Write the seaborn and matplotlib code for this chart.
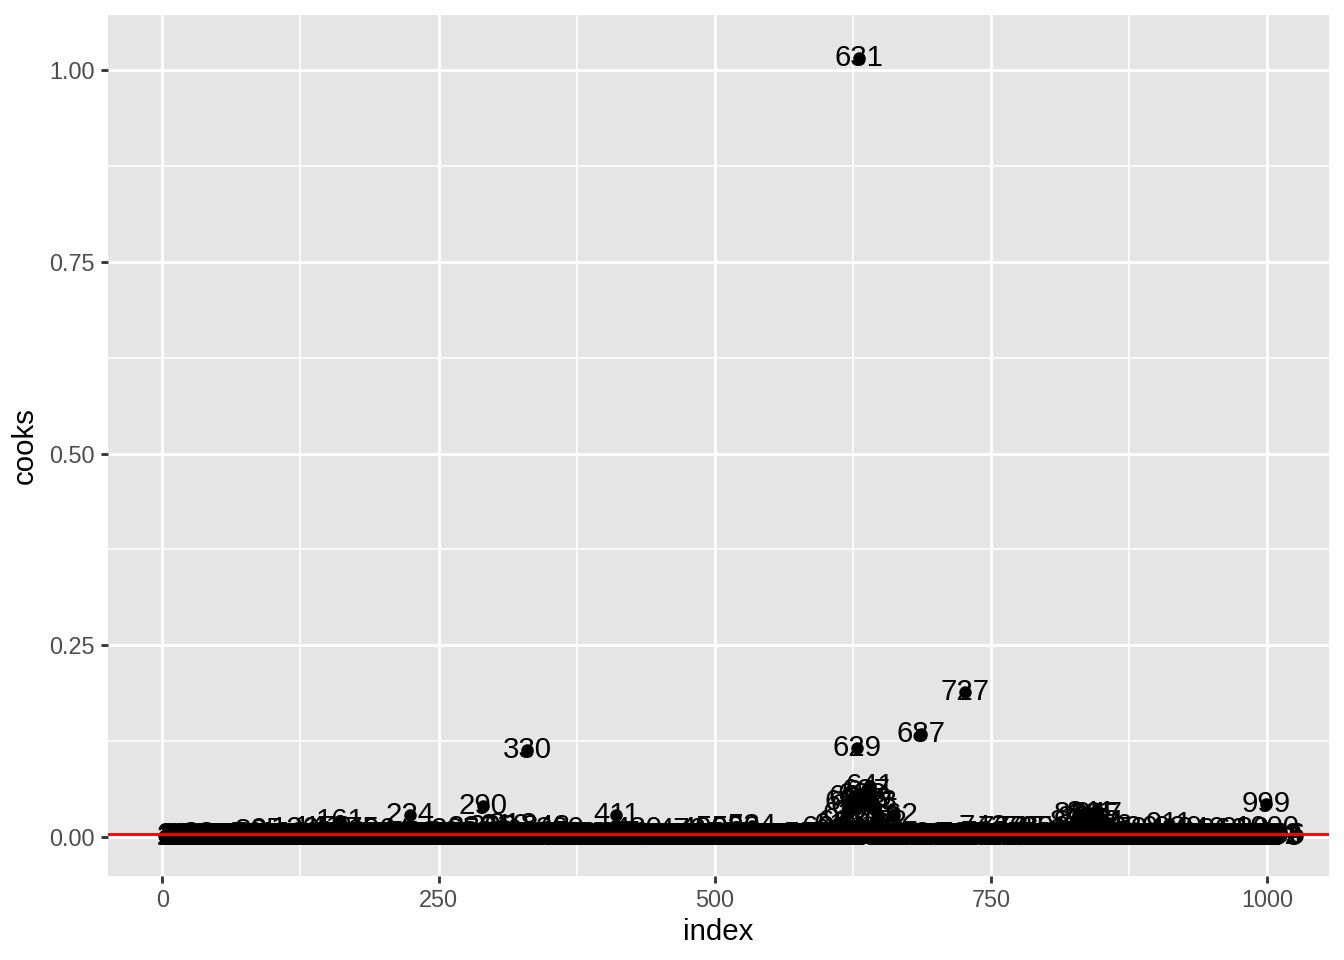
import numpy as np
import pandas as pd
import matplotlib
matplotlib.use("Agg")
import matplotlib.pyplot as plt
import seaborn as sns

# ---------------------- DATA ----------------------
# baseline Cook's distance for every observation, in thousandths (one digit per row)
baseline_digits = """
1021001201 0201100310 2001120102 1040120110 0210120301
2011030120 1002101301 2010240110 2103011020 1302101203
2130120241 0312021302 1203140213 0221301204 1302312041
2031420312 0251203103 2140230121 3021402130 2410320213
1302403120 3140213022 1403120523 0214031203 1240312031
2031402130 5021302413 0213042031 2403120214 3052130213
0312403120 2140312053 1204031240 2130241302 4021305210
3120413021 2403120312 0413021302 1403120312 0213041302
1204031230 2413021304 2130210312 0213021302 1302103120
2103120213 0213021031 2031203120 3120312031 2031203420
1302130213 0213402130 2130213021 3021302130 2132031021
3021302130 2130213021 3021302130 2130413021 3021302140
3140320513 0420532041 3052040630 5203041305 2040520314
3042031302 4130213021 3021302130 2130213041 3021302130
2130213021 3021302130 2140213021 3021302130 2130512031
3021302130 2130213021 3040213021 3021302130 2130213041
3021302130 2140321304 2130420531 2040530214 0520314021
3052031402 1302130213 0213021302 1302130213 0213021302
1302130213 0214021302 1302130213 0213021302 1302130213
0213021302 1302130213 0213021302 1302130213 0213021302
130213
"""

# observations that stand out from the band
notable_index = [80, 95, 120, 141, 150, 161, 175, 190, 224, 265, 280, 290,
                 300, 310, 318, 330, 348, 360, 411, 430, 470, 490, 505, 520,
                 534, 601, 612, 615, 620, 622, 625, 627, 629, 631, 633, 635,
                 637, 639, 641, 643, 645, 648, 652, 662, 687, 727, 743, 760,
                 775, 785, 800, 826, 829, 833, 838, 841, 845, 847, 851, 856,
                 870, 880, 911, 920, 940, 960, 980, 999, 1000]
notable_cooks = [0.008, 0.009, 0.010, 0.012, 0.011, 0.021, 0.010, 0.009, 0.028, 0.009, 0.011, 0.040,
                 0.013, 0.014, 0.015, 0.113, 0.013, 0.010, 0.029, 0.010, 0.009, 0.010, 0.011, 0.012,
                 0.014, 0.012, 0.015, 0.020, 0.030, 0.045, 0.052, 0.040, 0.116, 1.016, 0.055, 0.048,
                 0.060, 0.050, 0.066, 0.045, 0.035, 0.025, 0.020, 0.029, 0.134, 0.189, 0.013, 0.011,
                 0.012, 0.011, 0.012, 0.020, 0.030, 0.025, 0.022, 0.031, 0.028, 0.030, 0.020, 0.014,
                 0.010, 0.011, 0.017, 0.012, 0.010, 0.009, 0.010, 0.043, 0.011]

threshold = 0.0044

cooks = np.array([int(c) for c in "".join(baseline_digits.split())], dtype=float) / 1000
cooks[np.array(notable_index) - 1] = notable_cooks
df = pd.DataFrame({"index": np.arange(1, len(cooks) + 1), "cooks": cooks})

# ---------------------- PLOT ----------------------
plt.rcParams["font.family"] = ["Liberation Sans", "DejaVu Sans"]

fig = plt.figure(figsize=(7, 5), dpi=192)
ax = fig.add_axes([108 / 1344, 1 - 876 / 960, (1329 - 108) / 1344, (876 - 15) / 960])
ax.set_facecolor("#E5E5E5")
for s in ax.spines.values():
    s.set_visible(False)

# labels under the points, like geom_text before geom_point
for i, c in zip(df["index"], df["cooks"]):
    ax.text(i, c, str(i), fontsize=11, ha="center", va="center", color="black", zorder=2)

sns.scatterplot(x="index", y="cooks", data=df, color="black", s=22, linewidth=0, ax=ax, zorder=3)
ax.axhline(threshold, color="red", linewidth=1.07, zorder=4)

n = len(df)
xr = n - 1
ax.set_xlim(1 - 0.05 * xr, n + 0.05 * xr)
ax.set_ylim(-0.051, 1.072)

ax.set_xticks([0, 250, 500, 750, 1000])
ax.set_xticks([125, 375, 625, 875], minor=True)
ax.set_yticks([0, 0.25, 0.5, 0.75, 1.0])
ax.set_yticklabels(["0.00", "0.25", "0.50", "0.75", "1.00"])
ax.set_yticks([0.125, 0.375, 0.625, 0.875], minor=True)
ax.grid(which="major", color="white", linewidth=1.07)
ax.grid(which="minor", color="white", linewidth=0.6)
ax.set_axisbelow(True)
ax.tick_params(which="major", length=2.75, width=1.07, color="#333333",
               labelsize=8.8, labelcolor="#4D4D4D", pad=2.2)
ax.tick_params(which="minor", length=0)

ax.set_xlabel("index", fontsize=11, labelpad=2)
ax.set_ylabel("cooks", fontsize=11, labelpad=4)

fig.savefig("out.png", dpi=192)
